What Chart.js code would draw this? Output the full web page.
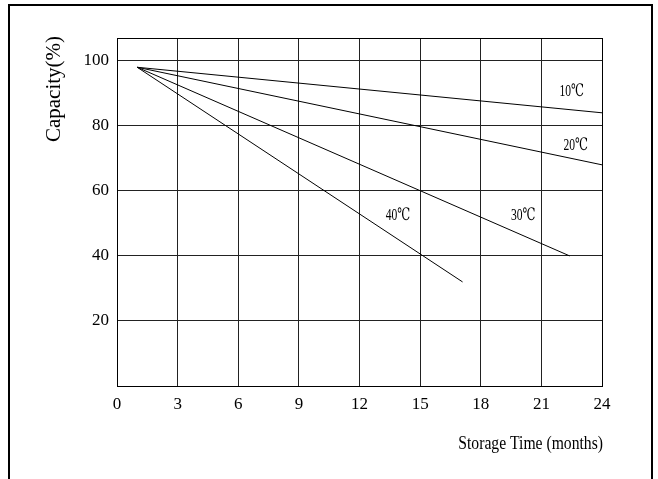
<!DOCTYPE html>
<html>
<head>
<meta charset="utf-8">
<script src="https://cdn.jsdelivr.net/npm/chart.js@4"></script>
<style>
  html, body { margin: 0; padding: 0; background: #fff; }
  #wrap { width: 658px; height: 479px; }
</style>
</head>
<body>
<div id="wrap"><canvas id="capChart" width="658" height="479"></canvas></div>
<script>
// storage time (months) and remaining capacity (%) per temperature
const months10 = [1, 24];
const cap10 = [98, 84];
const months20 = [1, 24];
const cap20 = [98, 68];
const months30 = [1, 22.4];
const cap30 = [98, 40];
const months40 = [1, 17.1];
const cap40 = [98, 32];

const tempLabels = ['10℃', '20℃', '30℃', '40℃'];
const xTicks = [0, 3, 6, 9, 12, 15, 18, 21, 24];
const yTicks = [20, 40, 60, 80, 100];

const serif = "'Liberation Serif', 'Times New Roman', 'DejaVu Serif', serif";

function pts(xs, ys) {
  return xs.map((x, i) => ({ x: x, y: ys[i] }));
}

function lineSet(label, xs, ys) {
  return {
    label: label,
    data: pts(xs, ys),
    borderColor: '#000',
    borderWidth: 1,
    pointRadius: 0,
    showLine: true,
    fill: false
  };
}

// squeezed text, the original artwork uses a narrow serif
function narrowText(ctx, text, x, y, size, sx, align) {
  ctx.save();
  ctx.translate(x, y);
  ctx.scale(sx, 1);
  ctx.font = size + 'px ' + serif;
  ctx.textAlign = align;
  ctx.textBaseline = 'middle';
  ctx.fillText(text, 0, 0);
  ctx.restore();
}

// where the temperature names sit, in chart units
const labelSpots = [
  { x: 22.5, y: 90.5 },
  { x: 22.7, y: 74 },
  { x: 20.1, y: 52.5 },
  { x: 13.9, y: 52.5 }
];

const decorations = {
  id: 'decorations',
  afterDraw(chart) {
    const ctx = chart.ctx;
    const a = chart.chartArea;
    const xs = chart.scales.x, ys = chart.scales.y;
    ctx.save();
    // plot box
    ctx.strokeStyle = '#000';
    ctx.lineWidth = 1;
    ctx.strokeRect(Math.round(a.left) + 0.5, Math.round(a.top) + 0.5,
      Math.round(a.right - a.left), Math.round(a.bottom - a.top));
    // outer frame
    ctx.lineWidth = 2;
    ctx.strokeRect(9, 5, 643, 520);

    ctx.fillStyle = '#000';
    tempLabels.forEach((t, i) => {
      const p = labelSpots[i];
      narrowText(ctx, t, xs.getPixelForValue(p.x), ys.getPixelForValue(p.y), 17, 0.68, 'center');
    });

    // axis titles
    narrowText(ctx, 'Storage Time (months)', a.right + 1, 444, 18, 0.87, 'right');
    ctx.translate(54, 89);
    ctx.rotate(-Math.PI / 2);
    ctx.font = '21px ' + serif;
    ctx.textAlign = 'center';
    ctx.textBaseline = 'middle';
    ctx.fillText('Capacity(%)', 0, 0);
    ctx.restore();
  }
};

new Chart(document.getElementById('capChart'), {
  type: 'scatter',
  data: {
    datasets: [
      lineSet(tempLabels[0], months10, cap10),
      lineSet(tempLabels[1], months20, cap20),
      lineSet(tempLabels[2], months30, cap30),
      lineSet(tempLabels[3], months40, cap40)
    ]
  },
  options: {
    responsive: false,
    animation: false,
    layout: { padding: { top: 38, right: 56, left: 0, bottom: 0 } },
    plugins: {
      legend: { display: false },
      tooltip: { enabled: false }
    },
    scales: {
      x: {
        type: 'linear',
        min: 0,
        max: 24,
        afterBuildTicks: axis => { axis.ticks = xTicks.map(v => ({ value: v })); },
        afterFit: axis => { axis.height = 93; },
        grid: { color: '#222', lineWidth: 1, drawTicks: false },
        border: { color: '#000' },
        ticks: {
          color: '#000',
          padding: 8,
          maxRotation: 0,
          font: { family: serif, size: 17 }
        }
      },
      y: {
        min: 0,
        max: 107,
        afterBuildTicks: axis => { axis.ticks = yTicks.map(v => ({ value: v })); },
        afterFit: axis => { axis.width = 117; },
        grid: { color: '#222', lineWidth: 1, drawTicks: false },
        border: { color: '#000' },
        ticks: {
          color: '#000',
          padding: 8,
          font: { family: serif, size: 17 }
        }
      }
    }
  },
  plugins: [decorations]
});
</script>
</body>
</html>
